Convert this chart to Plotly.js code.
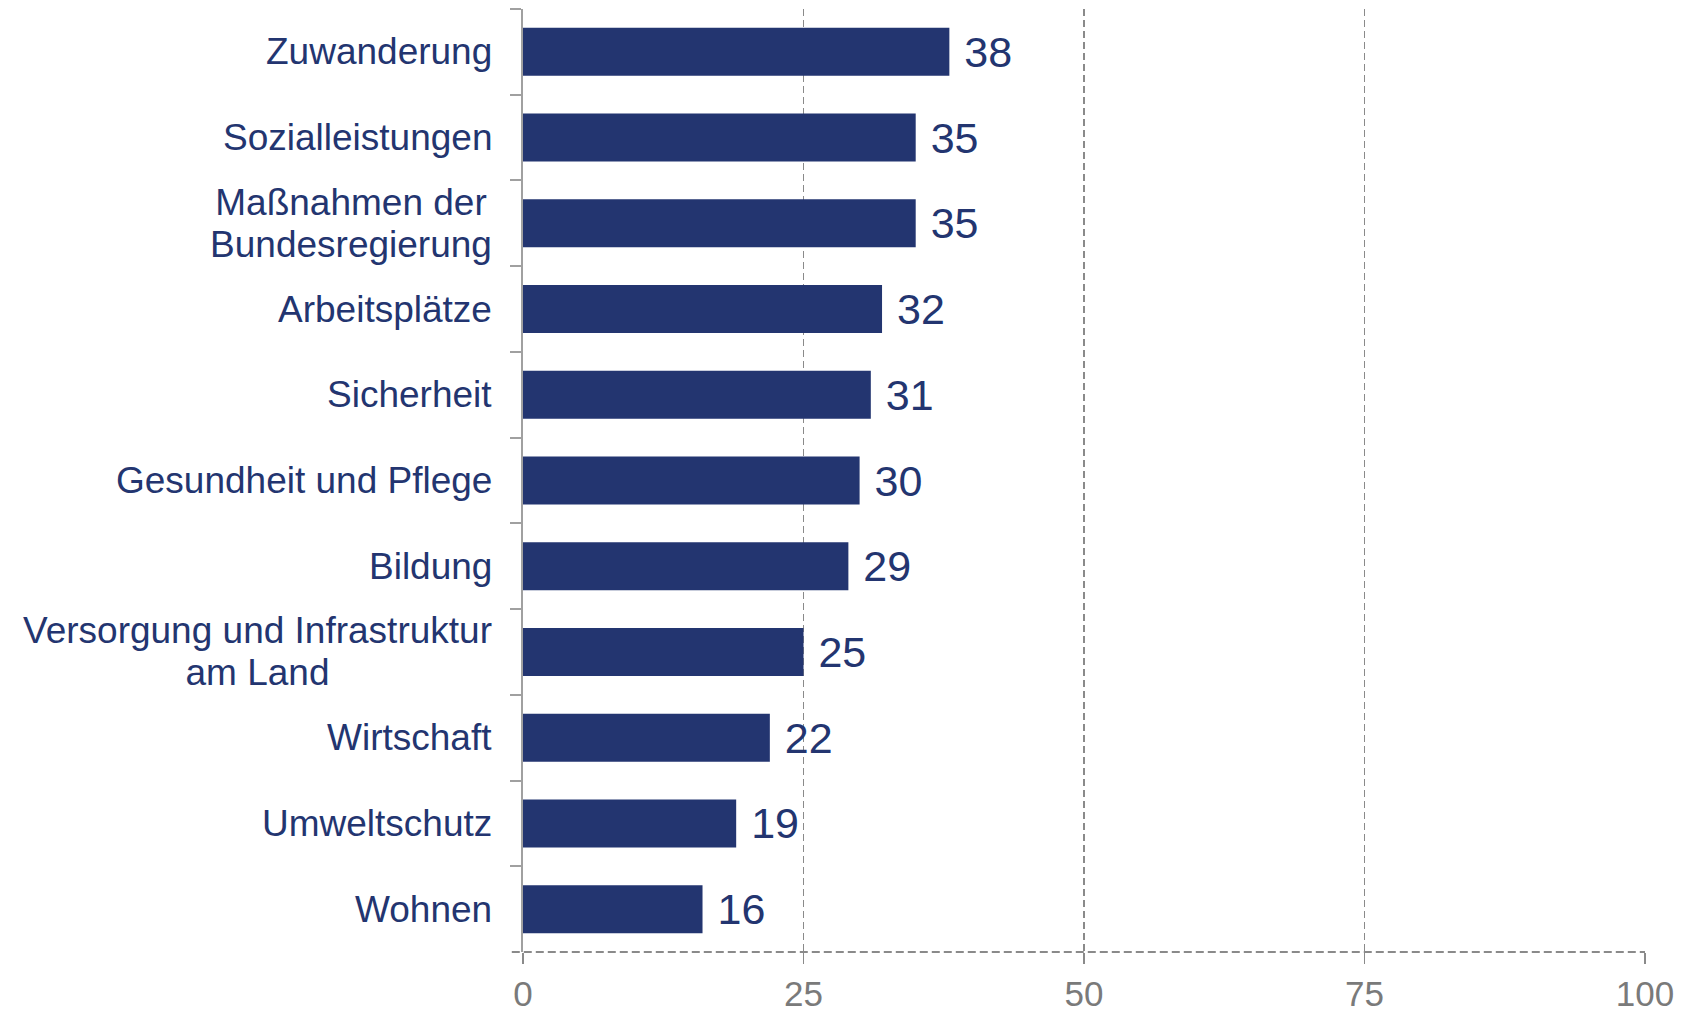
<!DOCTYPE html>
<html>
<head>
<meta charset="utf-8">
<script src="https://cdn.plot.ly/plotly-3.0.1.min.js"></script>
<style>html,body{margin:0;padding:0;background:#fff;}#chart{width:1690px;height:1014px;}</style>
</head>
<body>
<div id="chart"></div>
<script>
const categories = [
  "Zuwanderung",
  "Sozialleistungen",
  "Maßnahmen der<br>Bundesregierung",
  "Arbeitsplätze",
  "Sicherheit",
  "Gesundheit und Pflege",
  "Bildung",
  "Versorgung und Infrastruktur<br>am Land",
  "Wirtschaft",
  "Umweltschutz",
  "Wohnen"
];
const values = [38, 35, 35, 32, 31, 30, 29, 25, 22, 19, 16];
const xTicks = [0, 25, 50, 75, 100];

const navy = "#233570";
const grey = "#8a8a8a";
const font = "Liberation Sans, Arial, sans-serif";
const labelSize = 37;

const trace = {
  type: "bar",
  orientation: "h",
  y: categories,
  x: values,
  marker: { color: navy },
  width: 0.56,
  text: values.map(v => "\u00a0" + v),
  textposition: "outside",
  textfont: { family: font, size: 43, color: navy },
  cliponaxis: false,
  hoverinfo: "none"
};

const ctx = document.createElement("canvas").getContext("2d");
ctx.font = labelSize + "px " + font;

const annotations = [];
categories.forEach(c => {
  const lines = c.split("<br>");
  const multi = lines.length > 1;
  const w = Math.ceil(Math.max(...lines.map(l => ctx.measureText(l).width))) + 4;
  const gap = 42;
  lines.forEach((l, i) => {
    annotations.push({
      xref: "paper", x: 0, yref: "y", y: c,
      text: l, showarrow: false,
      xanchor: "right", yanchor: "middle", align: "center",
      width: multi ? w : undefined,
      xshift: multi ? -27 : -29,
      yshift: (lines.length - 1) * gap / 2 - i * gap,
      font: { family: font, size: labelSize, color: navy }
    });
  });
});

const layout = {
  width: 1690, height: 1014,
  margin: { l: 523, r: 45, t: 9, b: 62 },
  paper_bgcolor: "#fff", plot_bgcolor: "#fff",
  showlegend: false,
  xaxis: {
    range: [0, 100],
    tickvals: xTicks,
    ticktext: xTicks.map(String),
    showgrid: true, gridcolor: grey, gridwidth: 1.5, griddash: "7px,4px",
    zeroline: false, showline: false,
    ticks: "outside", ticklen: 11, tickcolor: grey, tickwidth: 1.5,
    tickfont: { family: font, size: 35, color: "#7a7a7a" },
    fixedrange: true
  },
  yaxis: {
    type: "category",
    autorange: "reversed",
    showticklabels: false,
    showline: true, linecolor: "#a0a0a0", linewidth: 2,
    showgrid: false, zeroline: false,
    ticks: "outside", tickson: "boundaries", ticklen: 11, tickcolor: "#a0a0a0", tickwidth: 2,
    fixedrange: true
  },
  shapes: [{
    type: "line", xref: "paper", yref: "paper",
    x0: -0.01, x1: 1, y0: 0, y1: 0,
    line: { color: grey, width: 2, dash: "8px,4px" }
  }],
  annotations: annotations
};

Plotly.newPlot("chart", [trace], layout, { displayModeBar: false, staticPlot: true });
</script>
</body>
</html>
